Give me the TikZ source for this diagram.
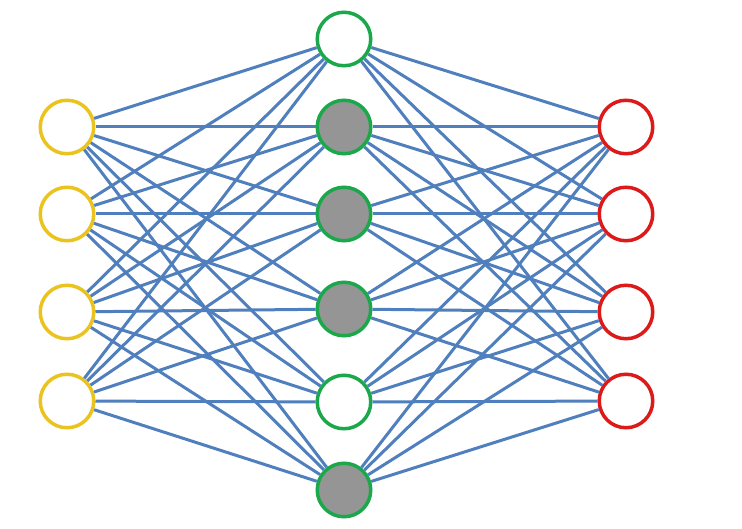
\documentclass[tikz,border=0pt]{standalone}
\definecolor{edgeblue}{HTML}{4F7FBD}
\definecolor{inyellow}{HTML}{EBC31F}
\definecolor{hidgreen}{HTML}{1AA84B}
\definecolor{outred}{HTML}{DD1A1A}
\definecolor{hidgray}{HTML}{959595}
\begin{document}
\begin{tikzpicture}[x=1pt,y=-1pt,
  neuron/.style={circle,line width=3.5pt,minimum size=53.5pt,inner sep=0pt,fill=white},
  inneuron/.style={neuron,draw=inyellow},
  hidneuron/.style={neuron,draw=hidgreen},
  hidfilled/.style={hidneuron,fill=hidgray},
  outneuron/.style={neuron,draw=outred},
  link/.style={draw=edgeblue,line width=3pt}]
\useasboundingbox (0,0) rectangle (742,529);
\node[inneuron] (i1) at (67,127) {};
\node[inneuron] (i2) at (67,214) {};
\node[inneuron] (i3) at (67,312) {};
\node[inneuron] (i4) at (67,401) {};
\node[hidneuron] (h1) at (344,39) {};
\node[hidfilled] (h2) at (344,127) {};
\node[hidfilled] (h3) at (344,214) {};
\node[hidfilled] (h4) at (344,309) {};
\node[hidneuron] (h5) at (344,402) {};
\node[hidfilled] (h6) at (344,490) {};
\node[outneuron] (o1) at (626,127) {};
\node[outneuron] (o2) at (626,214) {};
\node[outneuron] (o3) at (626,312) {};
\node[outneuron] (o4) at (626,401) {};
\foreach \i in {1,...,4}{
  \foreach \h in {1,...,6}{
    \draw[link] (i\i) -- (h\h);
    \draw[link] (h\h) -- (o\i);
  }
}
\end{tikzpicture}
\end{document}
